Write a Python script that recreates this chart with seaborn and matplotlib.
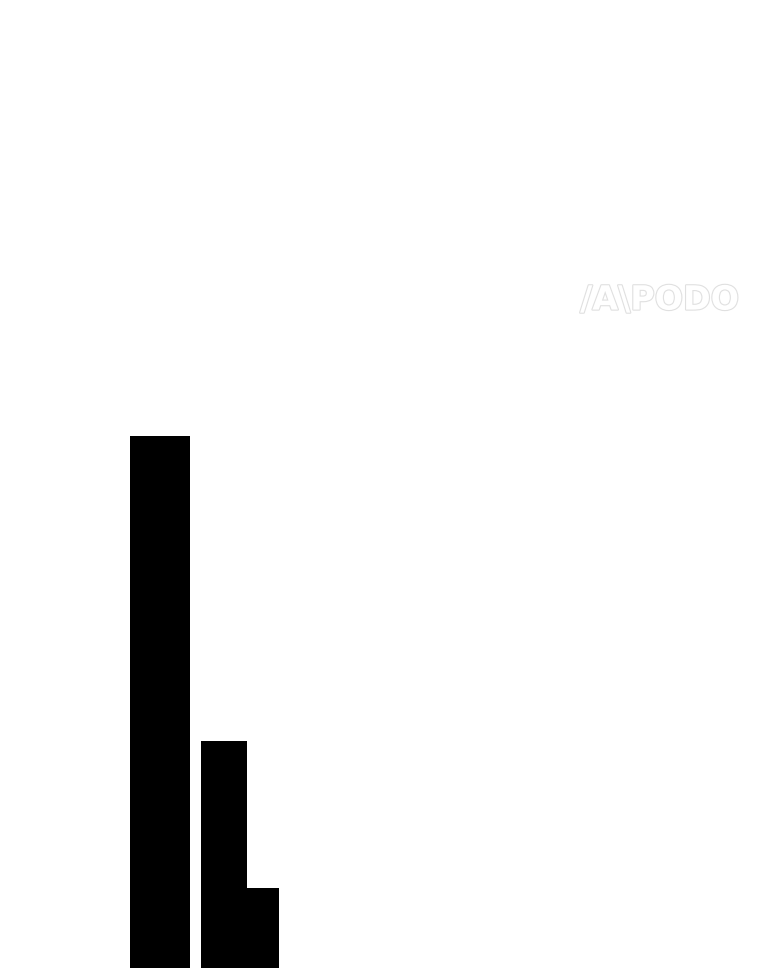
import numpy as np
import pandas as pd
import matplotlib
matplotlib.use("Agg")
import matplotlib.pyplot as plt
import matplotlib.patheffects as pe
import seaborn as sns

# bar values (relative units, the axis is hidden)
categories = ["A", "B", "C"]
values = [100, 42.7, 15.0]

# layout of the bars in the picture
bar_left = [130, 201, 247]
bar_width = [60, 46, 32]

sns.set_style("white")
plt.rcParams["font.family"] = ["DejaVu Sans"]

fig = plt.figure(figsize=(7.6, 9.68), dpi=100)
ax = fig.add_axes([0, 0, 1, 1])

df = pd.DataFrame({"cat": categories, "val": values})
sns.barplot(data=df, x="cat", y="val", color="black", saturation=1, ax=ax)

# place bars with their own widths, in pixel-like x units
for p, left, w in zip(ax.patches, bar_left, bar_width):
    p.set_x(left)
    p.set_width(w)
    p.set_linewidth(0)

ax.set_xlim(0, 760)
ax.set_ylim(0, values[0] * 968 / 532)
ax.axis("off")

# faint logo watermark
fig.text(0.868, 0.690, "/A\\PODO", fontsize=24, fontweight="bold",
         color="white", ha="center", va="center",
         path_effects=[pe.withStroke(linewidth=1.6, foreground="#e0e0e0")])

fig.savefig("out.png", dpi=100, facecolor="white")
